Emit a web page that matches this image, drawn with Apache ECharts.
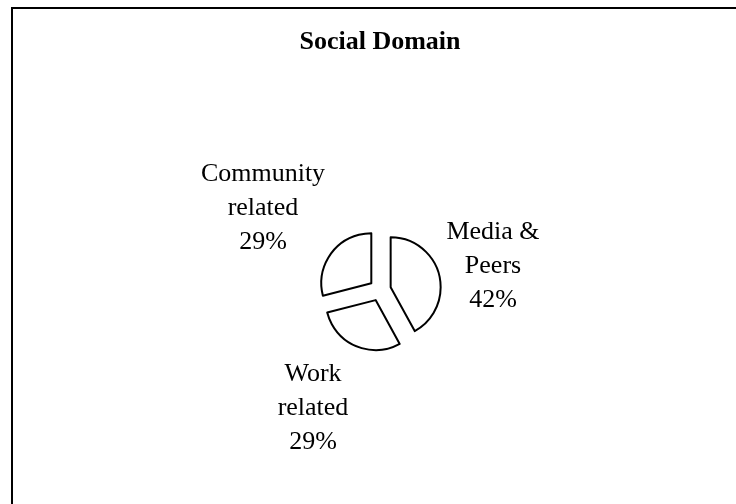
<!DOCTYPE html>
<html>
<head>
<meta charset="utf-8">
<script src="https://cdn.jsdelivr.net/npm/echarts@6/dist/echarts.min.js"></script>
<style>
html,body{margin:0;padding:0;background:#fff;}
#chart{width:736px;height:504px;}
</style>
</head>
<body>
<div id="chart"></div>
<script>
var title = 'Social Domain';
var categories = ['Media &\nPeers', 'Work\nrelated', 'Community\nrelated'];
var values = [42, 29, 29];

var labelSpots = [[493, 266], [313, 408], [263, 208]];

var chart = echarts.init(document.getElementById('chart'), null, {renderer: 'canvas'});
var sliceStyle = {color: '#ffffff', borderColor: '#000000', borderWidth: 2};
var dataItems = categories.map(function (c, i) {
  return {name: c, value: values[i]};
});
chart.setOption({
  backgroundColor: '#ffffff',
  animation: false,
  graphic: [{
    type: 'rect',
    shape: {x: 12, y: 8, width: 800, height: 600},
    style: {fill: 'none', stroke: '#000000', lineWidth: 2},
    silent: true
  }],
  title: {
    text: title,
    left: 380,
    textAlign: 'center',
    top: 29,
    padding: 0,
    textStyle: {fontFamily: 'Liberation Serif', fontWeight: 'bold', fontSize: 26, color: '#000'}
  },
  series: [{
    type: 'pie',
    center: [380, 290],
    radius: 50,
    startAngle: 90,
    clockwise: true,
    selectedMode: 'multiple',
    selectedOffset: 11,
    itemStyle: sliceStyle,
    select: {itemStyle: sliceStyle},
    emphasis: {disabled: true},
    labelLine: {show: false},
    label: {show: false},
    data: dataItems.map(function (d) {
      return {name: d.name, value: d.value, selected: true};
    })
  }, {
    type: 'pie',
    center: [380, 290],
    radius: 50,
    startAngle: 90,
    clockwise: true,
    silent: true,
    selectedMode: false,
    avoidLabelOverlap: false,
    itemStyle: {color: 'rgba(0,0,0,0)', borderWidth: 0},
    emphasis: {disabled: true},
    labelLine: {show: false},
    label: {
      show: true,
      position: 'outside',
      formatter: '{b}\n{d}%',
      fontFamily: 'Liberation Serif',
      fontSize: 26,
      lineHeight: 34,
      color: '#000',
      align: 'center'
    },
    labelLayout: function (p) {
      var s = labelSpots[p.dataIndex];
      return {x: s[0], y: s[1], align: 'center', verticalAlign: 'middle'};
    },
    data: dataItems
  }]
});
</script>
</body>
</html>
